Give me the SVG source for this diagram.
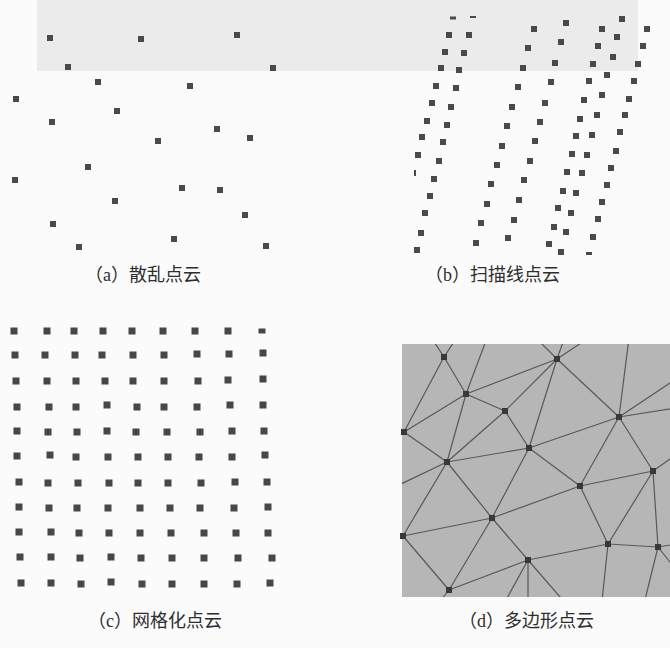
<svg xmlns="http://www.w3.org/2000/svg" xmlns:xlink="http://www.w3.org/1999/xlink" width="670" height="648" viewBox="0 0 670 648">
<defs>
<style>
.pt{fill:#4a4a4a}
.gp{fill:#474747}
.vx{fill:#383838}
.ed{stroke:#585858;stroke-width:1.2;fill:none}
.lbl{font-family:"Liberation Serif","Noto Sans CJK SC",serif;font-size:18px;fill:#2e2e2e}
</style>
<rect id="s" x="-3" y="-3" width="6" height="6"/>
<rect id="g" x="-3.5" y="-3.5" width="7" height="7"/>
<rect id="v" x="-3" y="-3" width="6" height="6"/>
<clipPath id="clipd"><rect x="402" y="344" width="268" height="253"/></clipPath>
</defs>
<rect width="670" height="648" fill="#fbfbfb"/>
<rect x="37" y="0" width="601" height="71" fill="#ebebeb"/>

<g id="panel-a" class="pt">
<use xlink:href="#s" x="50" y="38"/><use xlink:href="#s" x="141" y="39"/><use xlink:href="#s" x="237" y="35"/>
<use xlink:href="#s" x="68" y="67"/><use xlink:href="#s" x="273" y="68"/><use xlink:href="#s" x="98" y="82"/>
<use xlink:href="#s" x="190" y="86"/><use xlink:href="#s" x="16" y="99"/><use xlink:href="#s" x="117" y="111"/>
<use xlink:href="#s" x="52" y="122"/><use xlink:href="#s" x="217" y="129"/><use xlink:href="#s" x="250" y="138"/>
<use xlink:href="#s" x="158" y="141"/><use xlink:href="#s" x="88" y="167"/><use xlink:href="#s" x="15" y="180"/>
<use xlink:href="#s" x="182" y="188"/><use xlink:href="#s" x="220" y="190"/><use xlink:href="#s" x="115" y="201"/>
<use xlink:href="#s" x="245" y="215"/><use xlink:href="#s" x="53" y="224"/><use xlink:href="#s" x="79" y="247"/>
<use xlink:href="#s" x="174" y="239"/><use xlink:href="#s" x="266" y="246"/>
</g>

<g id="panel-b" class="pt">
<rect x="450" y="16.5" width="6" height="3"/><rect x="470" y="16" width="6" height="2"/>
<use xlink:href="#s" x="449" y="35"/><use xlink:href="#s" x="469" y="35"/>
<use xlink:href="#s" x="445" y="52"/><use xlink:href="#s" x="464" y="53"/>
<use xlink:href="#s" x="441" y="68"/><use xlink:href="#s" x="459" y="70"/>
<use xlink:href="#s" x="436" y="86"/><use xlink:href="#s" x="456" y="88"/>
<use xlink:href="#s" x="432" y="103"/><use xlink:href="#s" x="451" y="107"/>
<use xlink:href="#s" x="427" y="121"/><use xlink:href="#s" x="447" y="125"/>
<use xlink:href="#s" x="422" y="137"/><use xlink:href="#s" x="443" y="142"/>
<use xlink:href="#s" x="418" y="155"/><use xlink:href="#s" x="439" y="161"/>
<rect x="414" y="170" width="2" height="6"/><use xlink:href="#s" x="434" y="179"/>
<use xlink:href="#s" x="430" y="196"/><use xlink:href="#s" x="425" y="213"/>
<use xlink:href="#s" x="421" y="233"/><use xlink:href="#s" x="417" y="250"/>

<use xlink:href="#s" x="534" y="29"/><use xlink:href="#s" x="528" y="48"/><use xlink:href="#s" x="523" y="68"/>
<use xlink:href="#s" x="518" y="87"/><use xlink:href="#s" x="512" y="107"/><use xlink:href="#s" x="507" y="126"/>
<use xlink:href="#s" x="502" y="146"/><use xlink:href="#s" x="497" y="165"/><use xlink:href="#s" x="491" y="184"/>
<use xlink:href="#s" x="487" y="204"/><use xlink:href="#s" x="481" y="223"/><use xlink:href="#s" x="476" y="243"/>

<use xlink:href="#s" x="566" y="23"/><use xlink:href="#s" x="561" y="42"/><use xlink:href="#s" x="555" y="63"/>
<use xlink:href="#s" x="551" y="82"/><use xlink:href="#s" x="545" y="103"/><use xlink:href="#s" x="540" y="122"/>
<use xlink:href="#s" x="535" y="141"/><use xlink:href="#s" x="530" y="161"/><use xlink:href="#s" x="524" y="180"/>
<use xlink:href="#s" x="519" y="200"/><use xlink:href="#s" x="514" y="220"/><use xlink:href="#s" x="508" y="238"/>

<use xlink:href="#s" x="602" y="29"/><use xlink:href="#s" x="598" y="46"/><use xlink:href="#s" x="593" y="64"/>
<use xlink:href="#s" x="589" y="81"/><use xlink:href="#s" x="584" y="100"/><use xlink:href="#s" x="580" y="119"/>
<use xlink:href="#s" x="576" y="136"/><use xlink:href="#s" x="572" y="154"/><use xlink:href="#s" x="567" y="172"/>
<use xlink:href="#s" x="563" y="191"/><use xlink:href="#s" x="558" y="208"/><use xlink:href="#s" x="554" y="227"/>
<use xlink:href="#s" x="549" y="244"/>

<use xlink:href="#s" x="622" y="19"/><use xlink:href="#s" x="617" y="37"/><use xlink:href="#s" x="613" y="57"/>
<use xlink:href="#s" x="607" y="75"/><use xlink:href="#s" x="602" y="95"/><use xlink:href="#s" x="597" y="115"/>
<use xlink:href="#s" x="592" y="135"/><use xlink:href="#s" x="587" y="155"/><use xlink:href="#s" x="582" y="173"/>
<use xlink:href="#s" x="576" y="193"/><use xlink:href="#s" x="571" y="213"/><use xlink:href="#s" x="566" y="232"/>
<use xlink:href="#s" x="561" y="252"/>

<use xlink:href="#s" x="647" y="29"/><use xlink:href="#s" x="643" y="46"/><use xlink:href="#s" x="638" y="64"/>
<use xlink:href="#s" x="634" y="81"/><use xlink:href="#s" x="629" y="99"/><use xlink:href="#s" x="625" y="115"/>
<use xlink:href="#s" x="620" y="132"/><use xlink:href="#s" x="616" y="151"/><use xlink:href="#s" x="611" y="168"/>
<use xlink:href="#s" x="607" y="185"/><use xlink:href="#s" x="602" y="202"/><use xlink:href="#s" x="598" y="219"/>
<use xlink:href="#s" x="593" y="237"/><rect x="586" y="252" width="6" height="3"/>
</g>

<g id="panel-c" class="gp">
<use xlink:href="#g" x="14" y="331"/><use xlink:href="#g" x="47" y="331"/><use xlink:href="#g" x="74" y="331"/><use xlink:href="#g" x="103" y="331"/><use xlink:href="#g" x="132" y="331"/><use xlink:href="#g" x="163" y="331"/><use xlink:href="#g" x="195" y="331"/><use xlink:href="#g" x="228" y="331"/><rect x="258.5" y="328.5" width="7" height="5"/>
<use xlink:href="#g" x="15" y="355"/><use xlink:href="#g" x="45" y="355"/><use xlink:href="#g" x="75" y="355"/><use xlink:href="#g" x="102" y="355"/><use xlink:href="#g" x="133" y="355"/><use xlink:href="#g" x="164" y="355"/><use xlink:href="#g" x="197" y="354"/><use xlink:href="#g" x="229" y="354"/><use xlink:href="#g" x="263" y="353"/>
<use xlink:href="#g" x="16" y="381"/><use xlink:href="#g" x="47" y="381"/><use xlink:href="#g" x="76" y="381"/><use xlink:href="#g" x="105" y="381"/><use xlink:href="#g" x="133" y="381"/><use xlink:href="#g" x="164" y="381"/><use xlink:href="#g" x="198" y="381"/><use xlink:href="#g" x="228" y="380"/><use xlink:href="#g" x="263" y="379"/>
<use xlink:href="#g" x="17" y="407"/><use xlink:href="#g" x="49" y="407"/><use xlink:href="#g" x="76" y="407"/><use xlink:href="#g" x="107" y="405"/><use xlink:href="#g" x="137" y="407"/><use xlink:href="#g" x="164" y="407"/><use xlink:href="#g" x="197" y="407"/><use xlink:href="#g" x="230" y="405"/><use xlink:href="#g" x="263" y="405"/>
<use xlink:href="#g" x="17" y="431"/><use xlink:href="#g" x="48" y="432"/><use xlink:href="#g" x="77" y="432"/><use xlink:href="#g" x="107" y="431"/><use xlink:href="#g" x="136" y="432"/><use xlink:href="#g" x="167" y="432"/><use xlink:href="#g" x="200" y="432"/><use xlink:href="#g" x="232" y="431"/><use xlink:href="#g" x="264" y="431"/>
<use xlink:href="#g" x="17" y="456"/><use xlink:href="#g" x="50" y="455"/><use xlink:href="#g" x="76" y="457"/><use xlink:href="#g" x="108" y="457"/><use xlink:href="#g" x="138" y="457"/><use xlink:href="#g" x="168" y="457"/><use xlink:href="#g" x="199" y="457"/><use xlink:href="#g" x="232" y="457"/><use xlink:href="#g" x="265" y="455"/>
<use xlink:href="#g" x="19" y="482"/><use xlink:href="#g" x="48" y="483"/><use xlink:href="#g" x="78" y="483"/><use xlink:href="#g" x="109" y="483"/><use xlink:href="#g" x="138" y="483"/><use xlink:href="#g" x="168" y="483"/><use xlink:href="#g" x="201" y="483"/><use xlink:href="#g" x="235" y="482"/><use xlink:href="#g" x="267" y="482"/>
<use xlink:href="#g" x="19" y="507"/><use xlink:href="#g" x="49" y="508"/><use xlink:href="#g" x="77" y="508"/><use xlink:href="#g" x="108" y="508"/><use xlink:href="#g" x="140" y="508"/><use xlink:href="#g" x="170" y="508"/><use xlink:href="#g" x="200" y="508"/><use xlink:href="#g" x="234" y="508"/><use xlink:href="#g" x="268" y="507"/>
<use xlink:href="#g" x="19" y="532"/><use xlink:href="#g" x="51" y="532"/><use xlink:href="#g" x="79" y="533"/><use xlink:href="#g" x="109" y="533"/><use xlink:href="#g" x="140" y="533"/><use xlink:href="#g" x="171" y="533"/><use xlink:href="#g" x="204" y="533"/><use xlink:href="#g" x="236" y="533"/><use xlink:href="#g" x="268" y="533"/>
<use xlink:href="#g" x="20" y="557"/><use xlink:href="#g" x="51" y="557"/><use xlink:href="#g" x="80" y="558"/><use xlink:href="#g" x="111" y="557"/><use xlink:href="#g" x="141" y="558"/><use xlink:href="#g" x="172" y="558"/><use xlink:href="#g" x="204" y="558"/><use xlink:href="#g" x="238" y="558"/><use xlink:href="#g" x="272" y="558"/>
<use xlink:href="#g" x="21" y="583"/><use xlink:href="#g" x="51" y="583"/><use xlink:href="#g" x="81" y="584"/><use xlink:href="#g" x="111" y="582"/><use xlink:href="#g" x="142" y="584"/><use xlink:href="#g" x="172" y="584"/><use xlink:href="#g" x="204" y="584"/><use xlink:href="#g" x="237" y="584"/><use xlink:href="#g" x="270" y="583"/>
</g>

<g id="panel-d">
<rect x="402" y="344" width="268" height="253" fill="#b6b6b6"/>
<g id="connectors" class="ed" clip-path="url(#clipd)">
<path d="M444 357L466 394M444 357L404 432M466 394L557 359M466 394L505 411M466 394L404 432M466 394L447 462M505 411L557 359M505 411L447 462M505 411L529 448M557 359L529 448M557 359L619 417M404 432L447 462M447 462L529 448M529 448L619 417M619 417L653 471M619 417L580 486M529 448L580 486M529 448L492 518M447 462L492 518M447 462L403 536M492 518L580 486M492 518L403 536M492 518L528 560M492 518L449 590M403 536L449 590M528 560L449 590M528 560L608 544M580 486L608 544M580 486L653 471M653 471L608 544M653 471L658 547M608 544L658 547"/>
<path d="M444 357L425 328M444 357L463 328M466 394L490 330M557 359L529 331M557 359L567 331M557 359L599 331M619 417L630 330M619 417L700 363M619 417L700 404M653 471L700 438M658 547L700 540M658 547L640 620M608 544L600 620M528 560L528 620M528 560L495 620M528 560L580 620M447 462L380 494M449 590L425 620M403 536L380 560M658 547L700 600"/>
</g>
<g class="vx">
<use id="vA" xlink:href="#v" x="444" y="357"/><use id="vB" xlink:href="#v" x="557" y="359"/><use id="vC" xlink:href="#v" x="466" y="394"/>
<use id="vD" xlink:href="#v" x="505" y="411"/><use id="vE" xlink:href="#v" x="404" y="432"/><use id="vF" xlink:href="#v" x="619" y="417"/>
<use id="vG" xlink:href="#v" x="529" y="448"/><use id="vH" xlink:href="#v" x="447" y="462"/><use id="vI" xlink:href="#v" x="653" y="471"/>
<use id="vJ" xlink:href="#v" x="580" y="486"/><use id="vK" xlink:href="#v" x="492" y="518"/><use id="vL" xlink:href="#v" x="403" y="536"/>
<use id="vM" xlink:href="#v" x="608" y="544"/><use id="vN" xlink:href="#v" x="658" y="547"/><use id="vO" xlink:href="#v" x="528" y="560"/>
<use id="vP" xlink:href="#v" x="449" y="590"/>
</g>
</g>

<g id="labels" class="lbl">
<text x="85" y="281">（a）散乱点云</text>
<text x="425" y="281">（b）扫描线点云</text>
<text x="88" y="627">（c）网格化点云</text>
<text x="459" y="627">（d）多边形点云</text>
</g>
</svg>
